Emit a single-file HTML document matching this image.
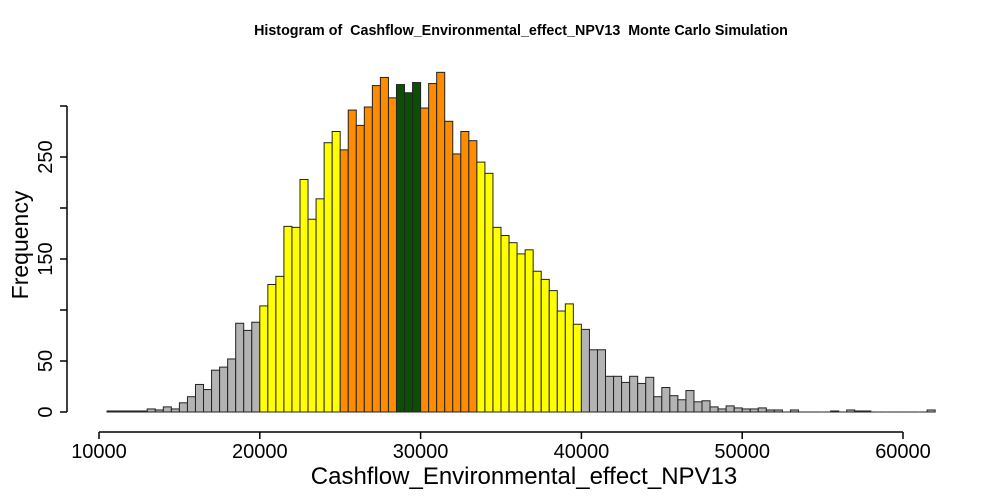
<!DOCTYPE html>
<html><head><meta charset="utf-8"><style>body{margin:0;background:#fff}svg{display:block}</style></head>
<body>
<svg id="chart" width="1000" height="500" xmlns="http://www.w3.org/2000/svg" font-family="Liberation Sans, Arial, sans-serif">
<text x="521" y="35" text-anchor="middle" font-size="14.3" font-weight="bold" style="white-space:pre">Histogram of  Cashflow_Environmental_effect_NPV13  Monte Carlo Simulation</text>
<g id="bars"></g>
<g id="axes"></g>
<text x="524" y="484" text-anchor="middle" font-size="24">Cashflow_Environmental_effect_NPV13</text>
<text transform="translate(28,245) rotate(-90)" text-anchor="middle" font-size="23">Frequency</text>
</svg>
<script>
const binStart = 10500;
const binWidth = 500;
const counts = [1,1,1,1,1,3,2,5,3,9,15,27,22,41,44,52,87,80,88,104,125,133,182,181,228,189,209,264,275,257,296,281,299,320,328,308,321,313,323,298,322,333,285,253,275,266,245,234,181,173,166,155,159,138,130,119,99,106,86,81,61,61,35,35,29,35,28,34,15,24,16,12,21,10,11,5,3,6,4,3,3,4,2,2,0,2,0,0,0,0,1,0,2,1,1,0,0,0,0,0,0,0,2];
const xTicks = [10000,20000,30000,40000,50000,60000];
const yTicks = [0,50,100,150,200,250,300];
const yLabels = [0,50,150,250];
const colorBreaks = [20000,25000,28500,30000,33500,40000];
const colorFills = ['#b3b3b3','#ffff00','#ff8c00','#0b4f05','#ff8c00','#ffff00','#b3b3b3'];

const NS='http://www.w3.org/2000/svg';
const x = v => 99 + (v-10000)*(804/50000);
const y = c => 412 - c*1.02;
const bars=document.getElementById('bars'), axes=document.getElementById('axes');
function mk(tag,attrs,parent){const e=document.createElementNS(NS,tag);for(const k in attrs)e.setAttribute(k,attrs[k]);parent.appendChild(e);return e;}
function fillFor(v){let i=0;while(i<colorBreaks.length&&v>=colorBreaks[i])i++;return colorFills[i];}
counts.forEach((c,i)=>{
  const v=binStart+i*binWidth;
  let r;
  if(c===0){
    r=mk('line',{x1:x(v),x2:x(v+binWidth),y1:y(0),y2:y(0),stroke:'#222','stroke-width':1},bars);
  } else {
    r=mk('rect',{x:x(v),y:y(c),width:x(v+binWidth)-x(v),height:y(0)-y(c),fill:fillFor(v),stroke:'#222','stroke-width':1},bars);
  }
  
  
});
let l=mk('line',{x1:67,x2:67,y1:y(0),y2:y(300),stroke:'#000','stroke-width':1.5},axes);


yTicks.forEach(t=>{
  const tk=mk('line',{x1:60,x2:67,y1:y(t),y2:y(t),stroke:'#000','stroke-width':1.5},axes);
  
  
});
yLabels.forEach(t=>{
  const tx=mk('text',{transform:`translate(52,${y(t)}) rotate(-90)`,'text-anchor':'middle','font-size':20},axes);
  tx.textContent=t;
  
  
});
l=mk('line',{x1:x(10000),x2:x(60000),y1:432,y2:432,stroke:'#000','stroke-width':1.5},axes);


xTicks.forEach(t=>{
  const tk=mk('line',{x1:x(t),x2:x(t),y1:432,y2:439,stroke:'#000','stroke-width':1.5},axes);
  
  
  const tx=mk('text',{x:x(t),y:458,'text-anchor':'middle','font-size':20},axes);
  tx.textContent=t;
  
  
});
</script>
</body></html>
